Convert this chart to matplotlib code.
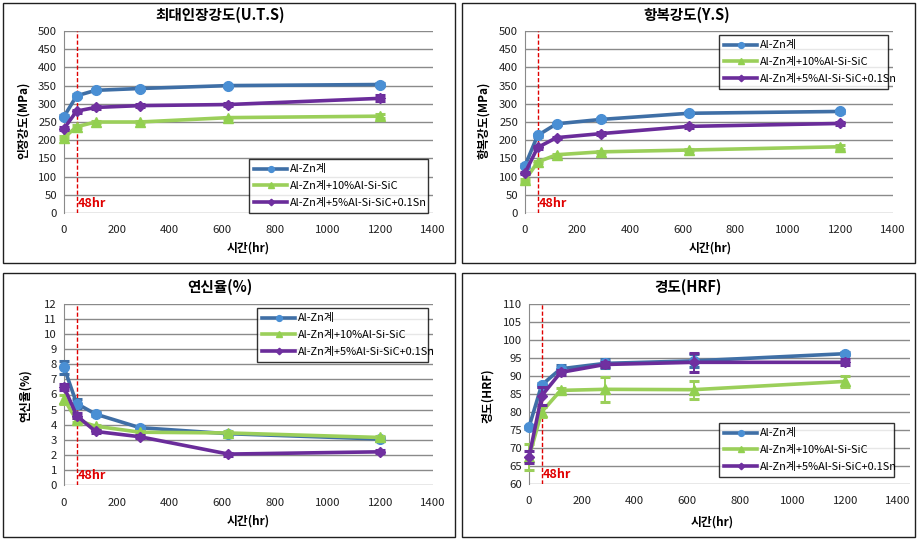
import matplotlib
matplotlib.use("Agg")
import matplotlib.pyplot as plt
from matplotlib.patches import Rectangle
from matplotlib.lines import Line2D

plt.rcParams['font.family'] = ['Noto Sans CJK KR', 'DejaVu Sans']

# data
hours = [0, 48, 120, 288, 624, 1200]
series_names = ["Al-Zn계", "Al-Zn계+10%Al-Si-SiC", "Al-Zn계+5%Al-Si-SiC+0.1Sn"]

uts_base = [265, 322, 337, 342, 350, 353]
uts_sic = [207, 237, 250, 250, 262, 266]
uts_sn = [232, 280, 290, 295, 298, 315]
uts_base_err = [4, 4, 3, 3, 3, 3]
uts_sic_err = [4, 4, 3, 3, 3, 5]
uts_sn_err = [4, 4, 3, 4, 4, 8]

ys_base = [130, 213, 245, 257, 274, 279]
ys_sic = [90, 140, 160, 168, 173, 182]
ys_sn = [110, 180, 207, 218, 238, 246]
ys_base_err = [4, 4, 3, 3, 3, 3]
ys_sic_err = [4, 4, 3, 3, 3, 5]
ys_sn_err = [4, 4, 3, 4, 4, 5]

el_base = [7.8, 5.4, 4.7, 3.8, 3.4, 3.05]
el_sic = [5.7, 4.3, 3.9, 3.5, 3.45, 3.15]
el_sn = [6.5, 4.6, 3.55, 3.2, 2.05, 2.2]
el_base_err = [0.45, 0.3, 0.15, 0.1, 0.1, 0.1]
el_sic_err = [0.3, 0.15, 0.1, 0.1, 0.1, 0.1]
el_sn_err = [0.2, 0.15, 0.1, 0.1, 0.1, 0.1]

hrf_base = [75.8, 87.5, 92.0, 93.5, 94.2, 96.2]
hrf_sic = [67.5, 80.0, 86.0, 86.3, 86.2, 88.5]
hrf_sn = [67.5, 84.5, 91.0, 93.2, 93.8, 93.8]
hrf_base_err = [0.4, 0.6, 1.0, 1.2, 1.8, 0.5]
hrf_sic_err = [3.5, 1.5, 0.8, 3.5, 2.5, 1.5]
hrf_sn_err = [1.8, 2.5, 0.8, 0.6, 2.7, 0.8]

line_colors = ['#3F6FA6', '#9BCF5A', '#6A2C9A']
marker_colors = ['#4A8FD4', '#92D050', '#7030A0']
markers = ['o', '^', 'D']
marker_sizes = [7, 7.5, 5.5]

W, H = 921, 540
fig = plt.figure(figsize=(W / 100, H / 100), dpi=100)


def px_axes(left, top, right, bottom):
    return fig.add_axes([left / W, 1 - bottom / H, (right - left) / W, (bottom - top) / H])


def panel(box, plot, title, title_xy, ylabel, ylabel_xy, xlabel_xy,
          ydata, yerrs, ylim, ystep, xmax, leg_box):
    # outer chart border
    bx0, by0, bx1, by1 = box
    fig.patches.append(Rectangle((bx0 / W, 1 - by1 / H), (bx1 - bx0) / W, (by1 - by0) / H,
                                 transform=fig.transFigure, fill=False,
                                 edgecolor='#202020', lw=1.0))
    ax = px_axes(*plot)
    handles = []
    for i in range(3):
        eb = ax.errorbar(hours, ydata[i], yerr=yerrs[i], color=line_colors[i], lw=2.6,
                         marker=markers[i], ms=marker_sizes[i], mfc=marker_colors[i],
                         mec=marker_colors[i], ecolor=line_colors[i], elinewidth=1.4,
                         capsize=3.5, capthick=2.2, zorder=3 + i)
        eb[0].set_clip_on(False)
        for c in eb[1]:
            c.set_clip_on(False)
        for c in eb[2]:
            c.set_clip_on(False)
        handles.append(Line2D([], [], color=line_colors[i], lw=2.6, marker=markers[i],
                              ms=marker_sizes[i] * 0.6, mfc=marker_colors[i],
                              mec=marker_colors[i], label=series_names[i]))
    ax.set_xlim(0, xmax)
    ax.set_ylim(*ylim)
    ax.set_xticks(range(0, 1401, 200))
    ax.set_yticks([ylim[0] + k * ystep for k in range(int((ylim[1] - ylim[0]) / ystep) + 1)])
    ax.yaxis.grid(True, color='#8A8A8A', lw=1.0)
    ax.set_axisbelow(True)
    for s in ['top', 'right', 'bottom']:
        ax.spines[s].set_visible(False)
    ax.spines['left'].set_color('#8A8A8A')
    ax.tick_params(axis='both', length=0, labelsize=8.2, colors='#202020', pad=5)
    ax.tick_params(axis='x', pad=9)
    ax.axvline(48, color='#E00000', lw=1.0, ls=(0, (3, 1.5)), zorder=2)
    ax.text(52, ylim[0] + (ylim[1] - ylim[0]) * 0.015, "48hr", color='#E00000',
            fontsize=9, fontweight='bold', va='bottom', ha='left')
    lx0, ly0, lx1, ly1 = leg_box
    bb = (lx0 / W, 1 - ly1 / H, (lx1 - lx0) / W, (ly1 - ly0) / H)
    leg = ax.legend(handles=handles, loc='upper left', bbox_to_anchor=bb,
                    bbox_transform=fig.transFigure, mode='expand', fontsize=7.9,
                    frameon=True, fancybox=False, handlelength=3.0, borderpad=0.5,
                    labelspacing=0.6, handletextpad=0.25, borderaxespad=0)
    leg.get_frame().set_edgecolor('black')
    leg.get_frame().set_linewidth(1.0)
    leg.set_zorder(10)
    fig.text(title_xy[0] / W, 1 - title_xy[1] / H, title, fontsize=10.5,
             fontweight='bold', ha='center', va='center')
    fig.text(ylabel_xy[0] / W, 1 - ylabel_xy[1] / H, ylabel, fontsize=8.5,
             fontweight='bold', ha='center', va='center', rotation=90)
    fig.text(xlabel_xy[0] / W, 1 - xlabel_xy[1] / H, "시간(hr)", fontsize=8.5,
             fontweight='bold', ha='center', va='center')
    return ax


panel((3, 3, 455, 263), (64, 31, 433, 213), "최대인장강도(U.T.S)", (220, 15),
      "인장강도(MPa)", (23, 120), (248, 248),
      [uts_base, uts_sic, uts_sn], [uts_base_err, uts_sic_err, uts_sn_err],
      (0, 500), 50, 1400, (249, 159, 428, 210))

panel((462, 3, 915, 263), (525, 31, 893, 213), "항복강도(Y.S)", (687, 15),
      "항복강도(MPa)", (484, 120), (710, 248),
      [ys_base, ys_sic, ys_sn], [ys_base_err, ys_sic_err, ys_sn_err],
      (0, 500), 50, 1400, (719, 35, 888, 93))

panel((3, 273, 455, 537), (64, 304, 433, 485), "연신율(%)", (220, 287),
      "연신율(%)", (25, 396), (248, 521),
      [el_base, el_sic, el_sn], [el_base_err, el_sic_err, el_sn_err],
      (0, 12), 1, 1400, (257, 308, 428, 357))

panel((462, 273, 915, 537), (529, 304, 910, 484), "경도(HRF)", (688, 287),
      "경도(HRF)", (487, 396), (712, 522),
      [hrf_base, hrf_sic, hrf_sn], [hrf_base_err, hrf_sic_err, hrf_sn_err],
      (60, 110), 5, 1445, (719, 423, 894, 479))

fig.savefig("out.png", dpi=100)
